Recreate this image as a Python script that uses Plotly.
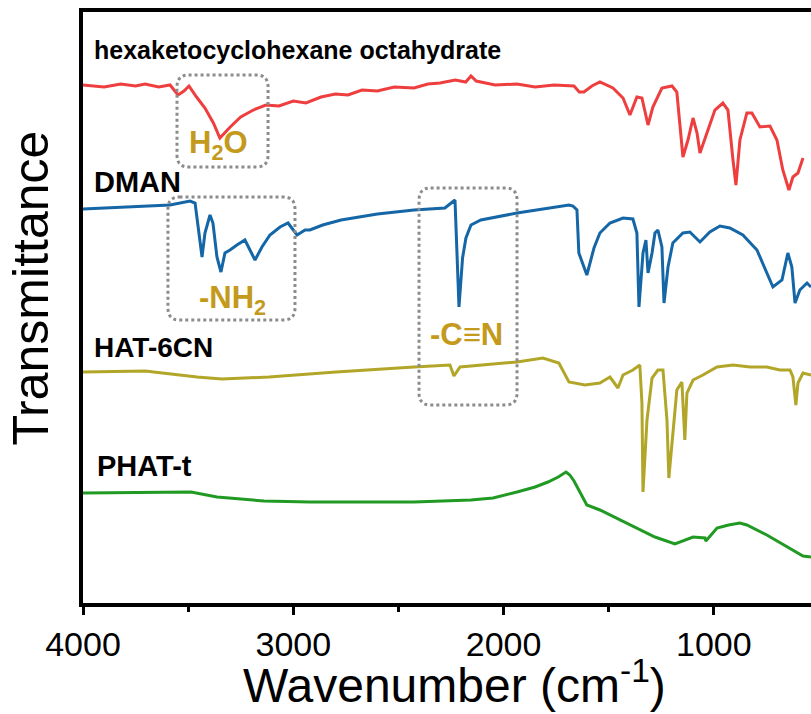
import plotly.graph_objects as go

# FTIR spectra, stacked with vertical offsets (arbitrary transmittance units)
hexa_wn = [4000, 3900, 3820, 3750, 3705, 3640, 3586, 3548, 3520, 3496, 3460, 3420, 3380,
           3349, 3300, 3250, 3190, 3130, 3068, 3000, 2940, 2868, 2800, 2740, 2673, 2600,
           2520, 2426, 2360, 2302, 2230, 2180, 2155, 2130, 2108, 2040, 1936, 1850, 1760,
           1700, 1665, 1640, 1618, 1580, 1542, 1480, 1432, 1399, 1366, 1342, 1313, 1290,
           1247, 1199, 1176, 1147, 1123, 1099, 1080, 1066, 1033, 995, 957, 933, 909, 895,
           876, 843, 819, 781, 733, 700, 672, 643, 624, 600, 576]
hexa_t = [518, 516, 519, 517, 519, 516, 518, 508, 512, 517, 506, 495, 480,
          465, 476, 486, 493, 498, 497, 502, 500, 506, 509, 508, 513, 512,
          516, 515, 519, 520, 523, 521, 527, 522, 521, 518, 519, 516, 518,
          517, 517, 511, 511, 517, 521, 515, 505, 488, 506, 505, 478, 496,
          515, 517, 511, 446, 463, 485, 470, 450, 470, 493, 500, 493, 443, 418,
          463, 490, 490, 476, 477, 463, 433, 413, 426, 430, 445]

dman_wn = [4000, 3800, 3586, 3491, 3467, 3434, 3420, 3396, 3382, 3363, 3344, 3325, 3301,
           3268, 3230, 3206, 3182, 3149, 3111, 3063, 3025, 2982, 2944, 2921, 2860, 2773,
           2600, 2426, 2279, 2231, 2212, 2195, 2179, 2155, 2108, 1936, 1800, 1689, 1670,
           1651, 1642, 1604, 1570, 1542, 1494, 1432, 1385, 1366, 1356, 1337, 1323, 1313,
           1294, 1280, 1266, 1247, 1237, 1218, 1195, 1147, 1114, 1066, 1019, 971, 924,
           862, 795, 748, 719, 676, 648, 629, 614, 591, 557, 538]
dman_t = [394, 396, 398, 402, 400, 346, 370, 388, 380, 346, 331, 350, 353,
          358, 363, 353, 343, 356, 368, 376, 380, 368, 373, 373, 378, 383,
          389, 393, 395, 403, 296, 345, 365, 378, 383, 390, 394, 398, 397,
          393, 350, 328, 355, 370, 380, 385, 384, 370, 296, 350, 363, 330,
          350, 370, 373, 356, 300, 336, 360, 370, 371, 361, 371, 377, 375,
          368, 353, 330, 316, 323, 350, 336, 300, 313, 320, 316]

hat_wn = [4000, 3705, 3458, 3339, 3116, 2797, 2426, 2255, 2236, 2207, 1936, 1813, 1737,
          1689, 1613, 1542, 1494, 1456, 1432, 1385, 1352, 1342, 1337, 1318, 1294, 1266,
          1242, 1223, 1214, 1195, 1176, 1152, 1138, 1128, 1099, 1052, 985, 909, 828,
          748, 686, 638, 624, 610, 600, 576, 538]
hat_t = [231, 232, 226, 224, 226, 231, 236, 238, 227, 236, 241, 245, 240,
         221, 218, 220, 226, 215, 228, 233, 238, 200, 111, 183, 225, 233,
         233, 183, 125, 173, 213, 221, 163, 210, 223, 228, 236, 238, 236,
         236, 233, 233, 226, 198, 220, 230, 228]

phat_wn = [4000, 3705, 3486, 3363, 3250, 3139, 2921, 2426, 2155, 2050, 1936, 1850, 1789,
           1740, 1703, 1685, 1665, 1604, 1542, 1447, 1366, 1280, 1185, 1099, 1042, 1038,
           985, 930, 876, 843, 748, 653, 576, 538]
phat_t = [110, 111, 111, 106, 104, 102, 101, 101, 103, 105, 111, 116, 121,
          126, 131, 128, 122, 98, 93, 83, 75, 66, 59, 66, 65, 62,
          75, 78, 80, 78, 68, 56, 47, 46]

x_ticks = [4000, 3000, 2000, 1000]
sample_names = ["hexaketocyclohexane octahydrate", "DMAN", "HAT-6CN", "PHAT-t"]

series = [
    (hexa_wn, hexa_t, "#EE3E3E"),
    (dman_wn, dman_t, "#1466A6"),
    (hat_wn, hat_t, "#B2A629"),
    (phat_wn, phat_t, "#219A24"),
]

fig = go.Figure()
for (wn, t, color), name in zip(series, sample_names):
    fig.add_trace(go.Scatter(x=wn, y=t, mode="lines", name=name,
                             line=dict(color=color, width=3), showlegend=False))

# sample labels
label_pos = [(3958, 553, 25), (3958, 421, 29), (3958, 256, 28), (3945, 137, 29)]
for name, (lx, ly, fs) in zip(sample_names, label_pos):
    fig.add_annotation(x=lx, y=ly, text=f"<b>{name}</b>", showarrow=False,
                       xanchor="left", yanchor="middle",
                       font=dict(family="Arial", size=fs, color="black"))

# dotted highlight boxes for characteristic bands
gold = "#C49A1C"
def rounded_box(x0, x1, y0, y1, rx=55, ry=12):
    # x axis is reversed: x0 > x1
    return (f"M {x0 - rx},{y1} L {x1 + rx},{y1} Q {x1},{y1} {x1},{y1 - ry} "
            f"L {x1},{y0 + ry} Q {x1},{y0} {x1 + rx},{y0} "
            f"L {x0 - rx},{y0} Q {x0},{y0} {x0},{y0 + ry} "
            f"L {x0},{y1 - ry} Q {x0},{y1} {x0 - rx},{y1} Z")

boxes = [(3553, 3120, 436, 528), (3596, 2992, 283, 406), (2402, 1936, 198, 415)]
for x0, x1, y0, y1 in boxes:
    fig.add_shape(type="path", path=rounded_box(x0, x1, y0, y1), xref="x", yref="y",
                  line=dict(color="#8C8C8C", width=3, dash="dot"))

band_labels = [("H<sub>2</sub>O", 3358, 458), ("-NH<sub>2</sub>", 3287, 303),
               ("-C≡N", 2174, 269)]
for txt, bx, by in band_labels:
    fig.add_annotation(x=bx, y=by, text=f"<b>{txt}</b>", showarrow=False,
                       xanchor="center", yanchor="middle",
                       font=dict(family="Arial", size=31, color=gold))

# axis titles
fig.add_annotation(xref="paper", yref="paper", x=-0.072, y=0.533,
                   text="Transmittance", textangle=-90, showarrow=False,
                   xanchor="center", yanchor="middle",
                   font=dict(family="Arial", size=50, color="black"))
fig.add_annotation(xref="paper", yref="paper", x=0.51, y=-0.188,
                   text="Wavenumber (cm<sup>-1</sup>)", showarrow=False,
                   xanchor="center", yanchor="bottom",
                   font=dict(family="Arial", size=48, color="black"))

fig.update_layout(
    width=811, height=714,
    margin=dict(l=83, r=0, t=12, b=111),
    paper_bgcolor="white", plot_bgcolor="white",
    font=dict(family="Arial", color="black"),
)
fig.update_xaxes(
    range=[4000, 538], tickvals=x_ticks, ticktext=[str(v) for v in x_ticks],
    showline=True, linecolor="black", linewidth=3.5, mirror=True,
    ticks="outside", ticklen=8, tickwidth=3, tickcolor="black",
    minor=dict(tickvals=[3500, 2500, 1500], ticks="outside", ticklen=5,
               tickwidth=3, tickcolor="black"),
    tickfont=dict(family="Arial", size=34, color="black"),
    showgrid=False, zeroline=False,
)
fig.update_yaxes(
    range=[0, 591], showticklabels=False, ticks="",
    showline=True, linecolor="black", linewidth=3.5, mirror=False,
    showgrid=False, zeroline=False,
)

fig.write_html("out.html")
